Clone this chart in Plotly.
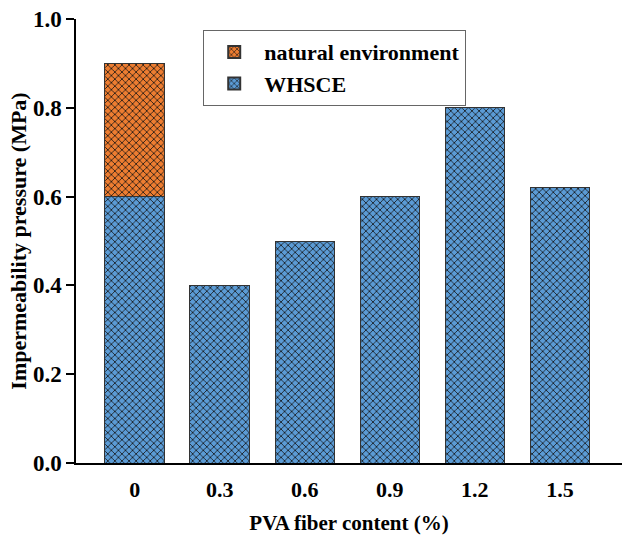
import plotly.graph_objects as go

# PVA fiber content (%) categories
fiber_content = ["0", "0.3", "0.6", "0.9", "1.2", "1.5"]
# Impermeability pressure (MPa) under WHSCE
whsce = [0.6, 0.4, 0.5, 0.6, 0.8, 0.62]
# Extra pressure reached in the natural environment (stacked on the 0 % bar)
natural_x = ["0"]
natural_extra = [0.3]

BLUE = "#5B9BD5"
ORANGE = "#ED7D31"
FONT = "Liberation Serif"


def hatch(color):
    return dict(shape="x", fgcolor="#111111", bgcolor=color, size=5,
                solidity=0.28, fillmode="replace")


fig = go.Figure()
fig.add_trace(go.Bar(
    x=fiber_content, y=whsce, name="WHSCE",
    marker=dict(color=BLUE, pattern=hatch(BLUE),
                line=dict(color="#333333", width=1)),
    width=0.7,
))
fig.add_trace(go.Bar(
    x=natural_x, y=natural_extra, name="natural environment",
    marker=dict(color=ORANGE, pattern=hatch(ORANGE),
                line=dict(color="#333333", width=1)),
    width=0.7,
))

fig.update_layout(
    width=622, height=535,
    barmode="stack",
    plot_bgcolor="white", paper_bgcolor="white",
    margin=dict(l=76, r=0, t=19, b=72),
    font=dict(family=FONT, size=20, color="black"),
    legend=dict(
        x=0.233, y=0.975, xanchor="left", yanchor="top",
        traceorder="reversed",
        bordercolor="#666666", borderwidth=1,
        bgcolor="white",
        font=dict(family=FONT, size=22, color="black", weight="bold"),
        itemsizing="constant",
        itemwidth=50,
        tracegroupgap=0,
    ),
    showlegend=True,
)

fig.update_xaxes(
    range=[-0.69, 5.73],
    showline=True, linecolor="black", linewidth=1.5,
    ticks="", showgrid=False, zeroline=False,
    tickfont=dict(family=FONT, size=22, weight="bold"),
    ticklabelstandoff=6,
    title=dict(text="<b>PVA fiber content (%)</b>",
               font=dict(family=FONT, size=21), standoff=18),
)
fig.update_yaxes(
    range=[0, 1.0], dtick=0.2, tickformat=".1f",
    showline=True, linecolor="black", linewidth=1.5,
    ticks="outside", ticklen=8, tickwidth=1.5, tickcolor="black",
    showgrid=False, zeroline=False,
    tickfont=dict(family=FONT, size=23, weight="bold"),
    title=dict(text="<b>Impermeability pressure (MPa)</b>",
               font=dict(family=FONT, size=22), standoff=0),
)

fig.write_html("out.html")
